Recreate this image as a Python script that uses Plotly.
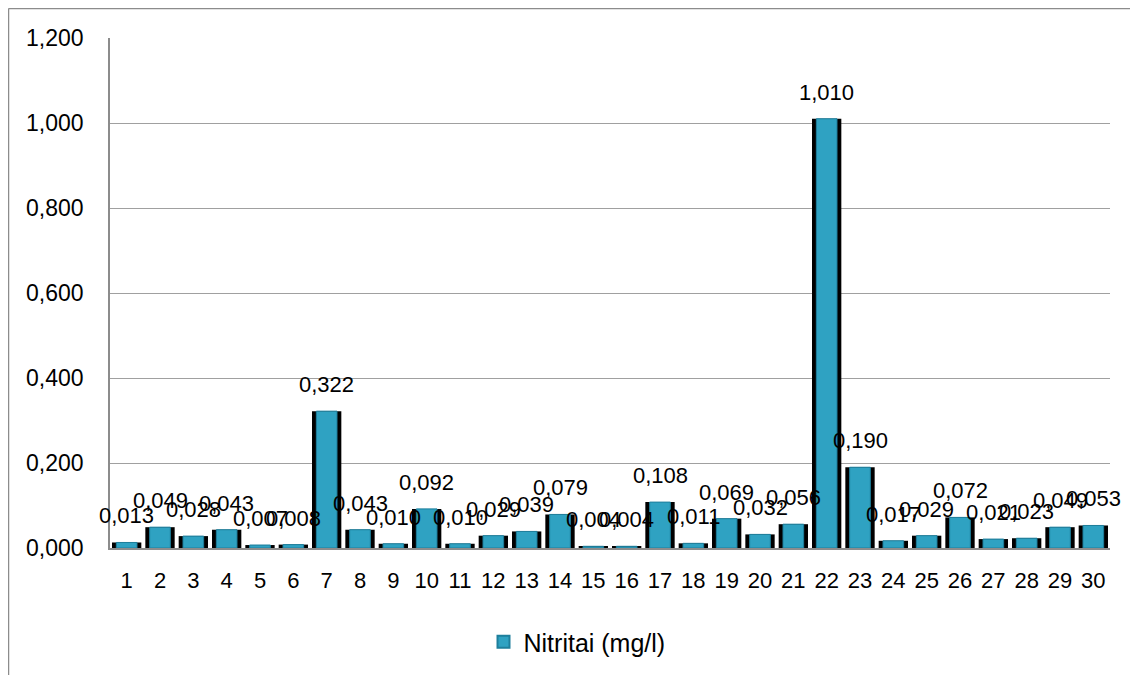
import plotly.graph_objects as go

categories = [str(i) for i in range(1, 31)]
values = [0.013, 0.049, 0.028, 0.043, 0.007, 0.008, 0.322, 0.043, 0.010, 0.092,
          0.010, 0.029, 0.039, 0.079, 0.004, 0.004, 0.108, 0.011, 0.069, 0.032,
          0.056, 1.010, 0.190, 0.017, 0.029, 0.072, 0.021, 0.023, 0.049, 0.053]
series_name = "Nitritai (mg/l)"
y_ticks = [0, 0.2, 0.4, 0.6, 0.8, 1.0, 1.2]
y_tick_labels = ["0,000", "0,200", "0,400", "0,600", "0,800", "1,000", "1,200"]

labels = [f"{v:.3f}".replace(".", ",") for v in values]

font_family = "Liberation Sans, Arial, sans-serif"

fig = go.Figure()
# shadow / bevel back
fig.add_trace(go.Bar(x=categories, y=values, width=0.88, marker_color="#000000",
                     marker_line_width=0, showlegend=False, hoverinfo="skip"))
fig.add_trace(go.Bar(x=categories, y=values, width=0.62, name=series_name,
                     marker_color="#2FA2C2", marker_line_color="#1E7F9C", marker_line_width=1))

# category axis positions are indices 0..n-1
annotations = [
    dict(x=i, y=v, xref="x", yref="y", text=t, showarrow=False, yanchor="bottom",
         yshift=12, font=dict(size=22, color="#000000", family=font_family))
    for i, (v, t) in enumerate(zip(values, labels))
]

OFF = 8  # page body offset
W, H = 1138, 675
L, R, T, B = 110 - OFF, 1110 - OFF, 38 - OFF, 548 - OFF
pw, ph = R - L, B - T
def px(x): return (x - OFF - L) / pw
def py(y): return (B - (y - OFF)) / ph

fig.update_layout(
    width=W, height=H,
    margin=dict(l=L, r=W - R, t=T, b=H - B),
    barmode="overlay",
    plot_bgcolor="white", paper_bgcolor="white",
    font=dict(family=font_family, size=22, color="#000000"),
    showlegend=True,
    legend=dict(orientation="h", x=px(577), xanchor="center", y=py(642), yanchor="middle",
                font=dict(size=25), itemsizing="constant"),
    annotations=annotations,
    shapes=[
        dict(type="line", xref="paper", yref="paper", x0=px(8.5), x1=px(8.5), y0=py(8.5), y1=py(720),
             line=dict(color="#8C8C8C", width=1.5)),
        dict(type="line", xref="paper", yref="paper", x0=px(8.5), x1=px(1160), y0=py(8.5), y1=py(8.5),
             line=dict(color="#8C8C8C", width=1.5)),
    ],
)
fig.update_xaxes(type="category", range=[-0.5, len(categories) - 0.5], showgrid=False, showline=True,
                 linecolor="#8C8C8C", linewidth=1.5, ticks="", tickfont=dict(size=22), ticklabelstandoff=12)
fig.update_yaxes(range=[0, 1.2], tickvals=y_ticks, ticktext=y_tick_labels, showgrid=True,
                 gridcolor="#A0A0A0", gridwidth=1, showline=True, linecolor="#8C8C8C", linewidth=1.5,
                 ticks="", tickfont=dict(size=23), ticklabelstandoff=20, zeroline=False)

fig.write_html("out.html")
